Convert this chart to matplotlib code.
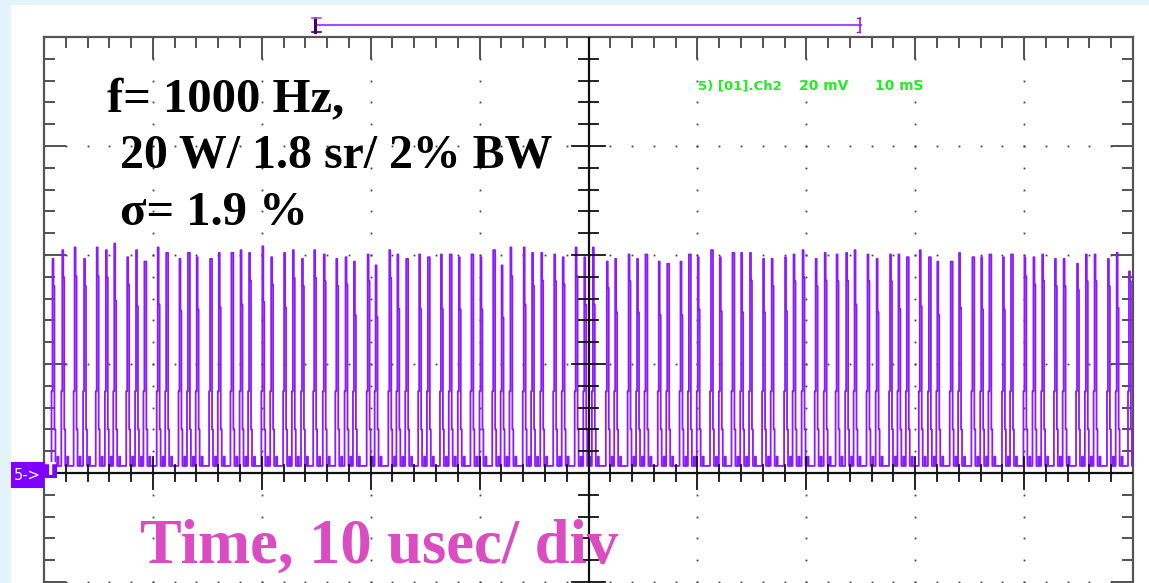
import numpy as np
import matplotlib.pyplot as plt
from matplotlib.patches import Rectangle

W, H = 1149, 583

# pulse positions (usec) and levels (mV)
pulse_t = [0.87, 1.77, 2.90, 3.77, 4.93, 5.77, 6.54, 7.73, 8.54, 9.31,
           10.53, 11.31, 12.53, 13.31, 14.11, 15.34, 16.14, 17.30, 18.14, 18.92,
           20.14, 20.95, 22.14, 22.94, 23.78, 24.90, 25.78, 26.93, 27.78, 28.55,
           29.81, 30.54, 31.80, 32.54, 33.35, 34.54, 35.34, 36.54, 37.35, 38.18,
           39.34, 40.17, 41.34, 42.11, 42.92, 44.14, 44.91, 45.75, 46.94, 47.72,
           48.91, 49.70,
           50.49, 51.77, 52.54, 53.77, 54.55, 55.32, 56.54, 57.32, 58.54, 59.31,
           60.12, 61.34, 62.15, 63.31, 64.11, 64.92, 66.12, 66.91, 68.14, 68.92,
           69.75, 70.95, 71.78, 72.87, 73.75, 74.52, 75.71, 76.55, 77.78, 78.55,
           79.32, 80.51, 81.35, 82.12, 83.35, 84.12, 85.34, 86.15, 86.90, 88.15,
           88.89, 90.12, 90.95, 91.75, 92.92, 93.72, 94.95, 95.76, 96.56, 97.79,
           98.59, 99.72]
pulse_peak = [39.3, 40.9, 41.4, 39.3, 41.4, 40.9, 42.1, 39.6, 40.9, 38.8,
              41.4, 40.4, 39.3, 40.4, 39.6, 39.3, 40.4, 40.4, 40.9, 40.4,
              41.6, 39.6, 40.4, 40.9, 39.3, 40.9, 40.1, 39.3, 39.6, 38.8,
              40.1, 38.1, 40.9, 40.1, 39.3, 40.1, 39.6, 40.1, 40.1, 39.6,
              40.1, 39.6, 40.9, 38.1, 41.4, 41.4, 40.4, 40.4, 40.1, 39.6,
              41.4, 39.6,
              41.4, 38.8, 39.3, 40.1, 39.3, 40.1, 38.8, 38.4, 38.8, 40.1,
              39.6, 40.9, 39.6, 40.4, 40.4, 40.4, 39.3, 39.3, 39.6, 40.1,
              40.9, 39.3, 40.4, 40.1, 40.4, 40.9, 40.1, 39.3, 40.1, 40.1,
              39.6, 40.9, 39.6, 38.8, 38.8, 40.4, 39.6, 39.6, 40.1, 39.6,
              40.1, 39.6, 39.6, 40.1, 39.3, 39.3, 38.4, 40.1, 40.1, 39.3,
              40.4, 37.0]
pulse_shoulder = [34.3, 35.9, 36.1, 34.3, 36.1, 35.9, 31.6, 34.6, 30.6, 38.8,
                  30.9, 40.4, 29.7, 40.4, 30.0, 39.3, 30.4, 40.4, 30.9, 35.3,
                  31.4, 34.6, 30.4, 35.8, 34.3, 35.8, 35.2, 34.3, 34.6, 29.0,
                  35.2, 28.6, 35.8, 30.1, 39.3, 30.1, 39.6, 30.1, 40.1, 30.0,
                  40.1, 30.0, 40.9, 28.5, 36.1, 30.9, 34.4, 35.3, 35.2, 34.6,
                  36.1, 30.9,
                  30.9, 34.0, 29.5, 35.2, 29.5, 40.1, 29.0, 38.4, 29.0, 40.1,
                  30.0, 40.9, 29.7, 40.4, 29.5, 35.3, 29.5, 34.3, 29.7, 35.2,
                  35.9, 34.3, 35.3, 35.2, 35.3, 30.9, 35.2, 29.5, 35.2, 30.1,
                  39.6, 30.6, 39.6, 29.0, 38.8, 30.4, 39.6, 30.0, 40.1, 30.0,
                  40.1, 36.1, 34.6, 35.3, 34.3, 34.3, 33.6, 35.2, 35.2, 34.3,
                  30.3, 35.2]

base = 1.3
lo_rise = 15.0
lo_fall = 8.0
foot = 3.0

# build the stepped trace from the pulse table
tt, vv = [0.0], [base]
for t, pk, sh in zip(pulse_t, pulse_peak, pulse_shoulder):
    tt += [t - 0.18, t - 0.09, t, t + 0.09, t + 0.18, t + 0.36, t + 0.46]
    vv += [lo_rise, pk, sh, lo_fall, base, foot, base]
tt.append(100.0)
vv.append(base)

fig = plt.figure(figsize=(W / 100, H / 100), dpi=100)
fig.patch.set_facecolor('#e3f3fc')
fig.add_artist(Rectangle((11 / W, 0), 1, 1 - 5 / H, transform=fig.transFigure,
                         fc='white', ec='none', zorder=0))

# axes: 10 div x 8 div, bottom part falls outside the picture
ax = fig.add_axes([44 / W, (H - 909) / H, 1089 / W, 872 / H])
ax.set_xlim(0, 100)
ax.set_ylim(-80, 80)
ax.patch.set_alpha(0)

for s in ax.spines.values():
    s.set_color('#555555')
    s.set_linewidth(1.6)

ax.set_xticks(np.arange(0, 101, 10))
ax.set_xticks(np.arange(0, 101, 2), minor=True)
ax.set_yticks(np.arange(-80, 81, 20))
ax.set_yticks(np.arange(-80, 81, 4), minor=True)
ax.tick_params(which='both', direction='in', top=True, right=True,
               labelbottom=False, labelleft=False, color='#444444', width=1.3)
ax.tick_params(which='major', length=16)
ax.tick_params(which='minor', length=8)

# dotted graticule
gx = np.arange(10, 100, 10)
gy = np.arange(-60, 61, 20)
for x in gx:
    yy = np.arange(-80, 81, 4)
    ax.plot(np.full_like(yy, x, dtype=float), yy, ls='none', marker='s',
            ms=1.3, mew=0, color='#444444', zorder=1)
for y in gy:
    xs = np.arange(0, 101, 2)
    ax.plot(xs, np.full_like(xs, y, dtype=float), ls='none', marker='s',
            ms=1.3, mew=0, color='#444444', zorder=1)

# signal
ax.plot(tt, vv, drawstyle='steps-post', color='#8a1aff', lw=1.3, zorder=3)

# centre cross with ticks
ax.axhline(0, color='#111111', lw=1.6, zorder=4)
ax.axvline(50, color='#111111', lw=1.6, zorder=4)
for x in np.arange(2, 100, 2):
    h = 2.9 if x % 10 == 0 else 1.5
    ax.plot([x, x], [-h, h], color='#111111', lw=1.3, zorder=4)
for y in np.arange(-76, 80, 4):
    w = 1.56 if y % 20 == 0 else 0.83
    ax.plot([50 - w, 50 + w], [y, y], color='#111111', lw=1.3, zorder=4)

# cursor bracket above the screen
ax.plot([25, 75], [82.2, 82.2], color='#a64dff', lw=1.5, clip_on=False)
ax.plot([24.9, 24.9], [80.9, 83.5], color='#3c0080', lw=2.2, clip_on=False)
ax.plot([24.6, 25.4], [83.5, 83.5], color='#a64dff', lw=1.2, clip_on=False)
ax.plot([24.6, 25.4], [80.9, 80.9], color='#3c0080', lw=1.2, clip_on=False)
ax.plot([74.95, 74.95], [80.9, 83.5], color='#8a1dff', lw=1.2, clip_on=False)
ax.plot([74.7, 74.95], [83.5, 83.5], color='#8a1dff', lw=1.0, clip_on=False)
ax.plot([74.7, 74.95], [80.9, 80.9], color='#8a1dff', lw=1.0, clip_on=False)

# annotations
serif = ['Liberation Serif', 'DejaVu Serif']
ax.text(5.8, 66.2, 'f= 1000 Hz,', family=serif, weight='bold', fontsize=35,
        va='baseline', color='black', zorder=5)
ax.text(7.0, 56.0, '20 W/ 1.8 sr/ 2% BW', family=serif, weight='bold',
        fontsize=34.4, va='baseline', color='black', zorder=5)
ax.text(7.0, 45.5, '\u03c3= 1.9 %', family=serif, weight='bold', fontsize=35,
        va='baseline', color='black', zorder=5)
ax.text(8.8, -16.5, 'Time, 10 usec/ div', family=serif, weight='bold',
        fontsize=45, va='baseline', color='#db4cc2', zorder=5)
sans = ['DejaVu Sans']
ax.text(60.1, 70.3, '5) [01].Ch2', family=sans, weight='bold', fontsize=9.5,
        va='baseline', color='#22ee22', zorder=5)
ax.text(69.3, 70.3, '20 mV', family=sans, weight='bold', fontsize=10,
        va='baseline', color='#22ee22', zorder=5)
ax.text(76.3, 70.3, '10 mS', family=sans, weight='bold', fontsize=10,
        va='baseline', color='#22ee22', zorder=5)

# trigger marker on the left
fig.add_artist(Rectangle((11 / W, 1 - 488 / H), 33 / W, 26 / H,
                         transform=fig.transFigure, fc='#8000ff', ec='none',
                         zorder=6))
fig.add_artist(Rectangle((44 / W, 1 - 478 / H), 13 / W, 16 / H,
                         transform=fig.transFigure, fc='#8000ff', ec='none',
                         zorder=6))
fig.text(27.5 / W, 1 - 475 / H, '5->', color='white', fontsize=10.5,
         family='DejaVu Sans', ha='center', va='center', zorder=7)
fig.text(50.5 / W, 1 - 470 / H, 'T', color='white', fontsize=12,
         family='DejaVu Sans', weight='bold', ha='center', va='center',
         zorder=7)

fig.savefig('out.png', dpi=100)
